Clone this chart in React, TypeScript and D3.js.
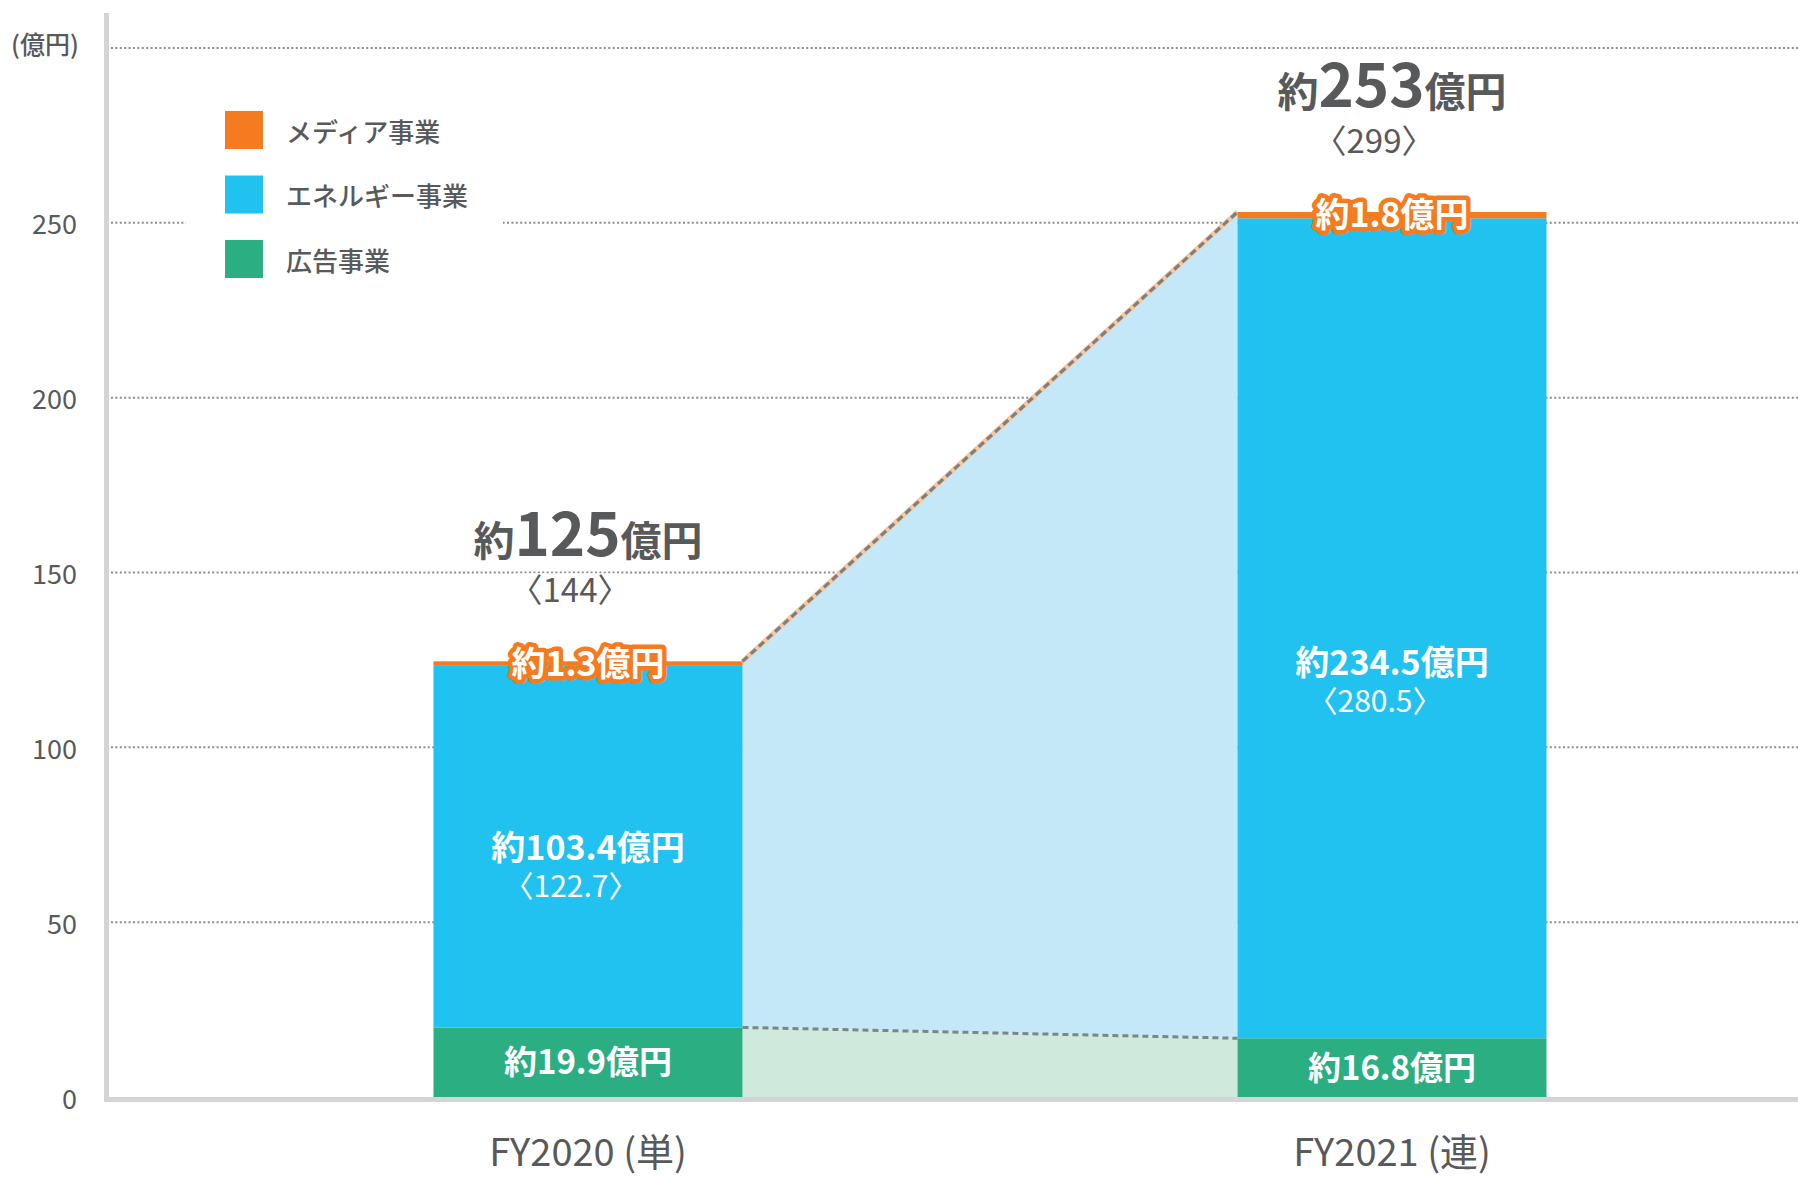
import React from "react";
import * as d3 from "d3";

const categories = ["FY2020 (単)", "FY2021 (連)"];
const adValues = [19.9, 16.8];
const energyValues = [103.4, 234.5];
const mediaValues = [1.3, 1.8];
const totalLabels = ["125", "253"];
const totalParens = ["144", "299"];
const energyParens = ["122.7", "280.5"];
const yTicks = [0, 50, 100, 150, 200, 250];
const gridTicks = [50, 100, 150, 200, 250, 300];
const legendItems = ["メディア事業", "エネルギー事業", "広告事業"];

const W = 1798;
const H = 1177;
const FONT = "'Noto Sans CJK JP', 'Noto Sans', sans-serif";
const GRAY = "#58595b";
const C_MEDIA = "#f47b20";
const C_ENERGY = "#21c2f0";
const C_AD = "#2bae82";
const C_AREA_E = "#c5e8f9";
const C_AREA_A = "#cfe9dc";
const AXIS = "#d3d4d6";

const y = d3.scaleLinear().domain([0, 300]).range([1097, 48]);
const x = d3.scalePoint<string>().domain(categories).range([588, 1392]);
const BW = 309;
const energyNudge = [0, 34];

export default function App() {
  const bars = categories.map((c, i) => {
    const cx = x(c) as number;
    const a = adValues[i];
    const e = a + energyValues[i];
    const m = e + mediaValues[i];
    return { c, cx, x0: cx - BW / 2, x1: cx + BW / 2, a, e, m, i };
  });
  const b0 = bars[0];
  const b1 = bars[1];

  const areaE = d3.line()([
    [b0.x1, y(b0.a)],
    [b0.x1, y(b0.m)],
    [b1.x0, y(b1.m)],
    [b1.x0, y(b1.a)],
  ]) + "Z";
  const areaA = d3.line()([
    [b0.x1, y(0)],
    [b0.x1, y(b0.a)],
    [b1.x0, y(b1.a)],
    [b1.x0, y(0)],
  ]) + "Z";

  return (
    <svg
      width={W}
      height={H}
      style={{ position: "absolute", left: 0, top: 0, background: "#fff" }}
      fontFamily={FONT}
    >
      <rect x={0} y={0} width={W} height={H} fill="#fff" />
      {/* gridlines */}
      {gridTicks.map((t) => (
        <line
          key={t}
          x1={111}
          x2={W}
          y1={y(t)}
          y2={y(t)}
          stroke="#8c8c8c"
          strokeWidth={2}
          strokeDasharray="2 2.4"
        />
      ))}
      {/* unit label */}
      <text x={11} y={43} fontSize={25} fill={GRAY} fontWeight={500} dominantBaseline="central">
        (億円)
      </text>
      {/* y tick labels */}
      {yTicks.map((t) => (
        <text
          key={t}
          x={77}
          y={y(t)}
          fontSize={27}
          fill={GRAY}
          textAnchor="end"
          dominantBaseline="central"
        >
          {t}
        </text>
      ))}
      {/* legend */}
      <rect x={186} y={92} width={317} height={205} fill="#fff" />
      {legendItems.map((name, i) => {
        const col = [C_MEDIA, C_ENERGY, C_AD][i];
        const ly = 111 + i * 64.5;
        return (
          <g key={name}>
            <rect x={225} y={ly} width={38} height={38} fill={col} />
            <text
              x={286}
              y={ly + 19}
              fontSize={26}
              fontWeight={500}
              fill={GRAY}
              dominantBaseline="central"
            >
              {name}
            </text>
          </g>
        );
      })}
      {/* areas between bars */}
      <path d={areaA} fill={C_AREA_A} />
      <path d={areaE} fill={C_AREA_E} />
      {/* connector lines */}
      <line x1={b0.x1} y1={y(b0.m)} x2={b1.x0} y2={y(b1.m)} stroke="#f8c8a0" strokeWidth={5} />
      <line
        x1={b0.x1}
        y1={y(b0.m)}
        x2={b1.x0}
        y2={y(b1.m)}
        stroke="#7f7f7f"
        strokeWidth={3.2}
        strokeDasharray="7 4"
      />
      <line
        x1={b0.x1}
        y1={y(b0.a)}
        x2={b1.x0}
        y2={y(b1.a)}
        stroke="#6f7d7e"
        strokeWidth={3}
        strokeDasharray="6 4"
        opacity={0.9}
      />
      {/* bars */}
      {bars.map((b) => (
        <g key={b.c}>
          <rect x={b.x0} y={y(b.a)} width={BW} height={y(0) - y(b.a)} fill={C_AD} />
          <rect x={b.x0} y={y(b.e)} width={BW} height={y(b.a) - y(b.e)} fill={C_ENERGY} />
          <rect x={b.x0} y={y(b.m)} width={BW} height={y(b.e) - y(b.m)} fill={C_MEDIA} />
        </g>
      ))}
      {/* axes */}
      <rect x={104} y={13} width={5} height={1089} fill={AXIS} />
      <rect x={104} y={1097} width={W - 104} height={5} fill={AXIS} />
      {/* labels */}
      {bars.map((b) => {
        const i = b.i;
        const topY = y(b.m);
        const eMid = (y(b.a) + y(b.e)) / 2 + energyNudge[i];
        const aMid = (y(0) + y(b.a)) / 2;
        const mY = (y(b.e) + y(b.m)) / 2;
        return (
          <g key={"l" + b.c}>
            {/* total */}
            <text
              x={b.cx}
              y={topY - 105}
              textAnchor="middle"
              fill={GRAY}
              fontWeight={700}
            >
              <tspan fontSize={41}>約</tspan>
              <tspan fontSize={60}>{totalLabels[i]}</tspan>
              <tspan fontSize={41}>億円</tspan>
            </text>
            <rect x={b.cx - 72} y={topY - 88} width={104} height={36} fill="#fff" />
            <text
              x={b.cx - 18}
              y={topY - 59}
              textAnchor="middle"
              fill={GRAY}
              fontSize={33}
            >
              {"〈" + totalParens[i] + "〉"}
            </text>
            {/* energy */}
            <text
              x={b.cx}
              y={eMid + 13}
              textAnchor="middle"
              fill="#fff"
              fontSize={34}
              fontWeight={700}
            >
              {"約" + energyValues[i] + "億円"}
            </text>
            <text
              x={b.cx - 17}
              y={eMid + 50}
              textAnchor="middle"
              fill="#fff"
              fontSize={30}
            >
              {"〈" + energyParens[i] + "〉"}
            </text>
            {/* ad */}
            <text
              x={b.cx}
              y={aMid + 12}
              textAnchor="middle"
              fill="#fff"
              fontSize={33}
              fontWeight={700}
            >
              {"約" + adValues[i] + "億円"}
            </text>
            {/* media */}
            <text
              x={b.cx}
              y={mY + 12}
              textAnchor="middle"
              fill="#fff"
              fontSize={34}
              fontWeight={700}
              stroke={C_MEDIA}
              strokeWidth={9}
              strokeLinejoin="round"
              paintOrder="stroke"
            >
              {"約" + mediaValues[i] + "億円"}
            </text>
            {/* x label */}
            <text
              x={b.cx}
              y={1166}
              textAnchor="middle"
              fill={GRAY}
              fontSize={38}
              fontWeight={400}
            >
              {b.c}
            </text>
          </g>
        );
      })}
    </svg>
  );
}
